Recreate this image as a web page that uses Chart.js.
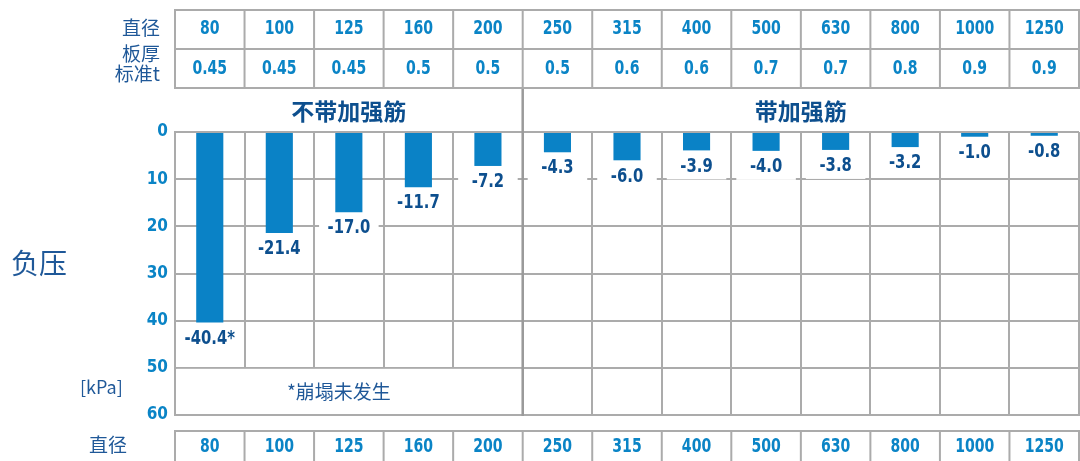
<!DOCTYPE html>
<html>
<head>
<meta charset="utf-8">
<script src="https://cdn.jsdelivr.net/npm/chart.js@4.4.1/dist/chart.umd.min.js"></script>
<style>
  html, body { margin: 0; padding: 0; background: #fff; }
  #wrap { width: 1080px; height: 461px; position: relative; }
</style>
</head>
<body>
<div id="wrap"><canvas id="chart"></canvas></div>
<script>
// data
var diameters = ['80', '100', '125', '160', '200', '250', '315', '400', '500', '630', '800', '1000', '1250'];
var thickness = ['0.45', '0.45', '0.45', '0.5', '0.5', '0.5', '0.6', '0.6', '0.7', '0.7', '0.8', '0.9', '0.9'];
var pressure = [-40.4, -21.4, -17.0, -11.7, -7.2, -4.3, -6.0, -3.9, -4.0, -3.8, -3.2, -1.0, -0.8];
var noCollapse = [true, false, false, false, false, false, false, false, false, false, false, false, false];
var yTicks = [0, 10, 20, 30, 40, 50, 60];
var sectionLabels = ['不带加强筋', '带加强筋'];
var sectionStart = [0, 5];

var NUMFONT = '"DejaVu Sans", sans-serif';
var TICKFONT = '"DejaVu Sans Condensed", "DejaVu Sans", sans-serif';
var CJK = '"Noto Sans CJK SC", "Noto Sans", sans-serif';
var blue = '#0a84c6';
var navy = '#0d4f8e';
var textBlue = '#1f5898';
var gridColor = '#ababab';

function colEdge(xs, i) {
    return xs.left + i * xs.width / diameters.length;
}

// condensed look: squeeze the text horizontally
function narrowText(ctx, text, x, y) {
    ctx.save();
    ctx.translate(x, y);
    ctx.scale(0.74, 1);
    ctx.fillText(text, 0, 0);
    ctx.restore();
}

var tablePlugin = {
    id: 'tables',
    beforeDatasetsDraw: function(chart) {
        var ctx = chart.ctx, xs = chart.scales.x, ys = chart.scales.y;
        // merged footnote cell in the 50-60 band of the left section
        var l = colEdge(xs, 0), r = colEdge(xs, sectionStart[1]);
        var t = ys.getPixelForValue(-50), b = ys.getPixelForValue(-60);
        ctx.save();
        ctx.fillStyle = '#fff';
        ctx.fillRect(l + 1.5, t + 1, r - l - 3, b - t - 2);
        ctx.fillStyle = textBlue;
        ctx.font = '19px ' + CJK;
        ctx.textAlign = 'center';
        ctx.textBaseline = 'middle';
        ctx.fillText('*崩塌未发生', (l + r) / 2 - 10, (t + b) / 2);
        ctx.restore();
    },
    afterDatasetsDraw: function(chart) {
        var ctx = chart.ctx, xs = chart.scales.x, ys = chart.scales.y;
        var n = diameters.length;
        var colW = xs.width / n;
        var meta = chart.getDatasetMeta(0);
        ctx.save();

        // value labels under the bars, on white boxes
        ctx.textAlign = 'center';
        ctx.textBaseline = 'middle';
        meta.data.forEach(function(bar, i) {
            ctx.fillStyle = '#fff';
            ctx.fillRect(bar.x - colW / 2 + 5, bar.y + 3, colW - 10, 26);
            ctx.fillStyle = navy;
            ctx.font = 'bold 20px ' + NUMFONT;
            narrowText(ctx, pressure[i].toFixed(1) + (noCollapse[i] ? '*' : ''), bar.x, bar.y + 16);
        });

        // separator between the two sections
        var sx = colEdge(xs, sectionStart[1]);
        ctx.strokeStyle = '#9a9a9a';
        ctx.lineWidth = 2.5;
        ctx.beginPath();
        ctx.moveTo(sx, 88);
        ctx.lineTo(sx, ys.bottom + 1);
        ctx.stroke();

        // section titles
        ctx.fillStyle = navy;
        ctx.font = 'bold 23px ' + CJK;
        sectionLabels.forEach(function(lab, k) {
            var a = colEdge(xs, sectionStart[k]);
            var b = k + 1 < sectionStart.length ? colEdge(xs, sectionStart[k + 1]) : colEdge(xs, n);
            ctx.fillText(lab, (a + b) / 2, 111);
        });

        // top table
        var x0 = colEdge(xs, 0), x1 = colEdge(xs, n);
        ctx.strokeStyle = gridColor;
        ctx.lineWidth = 2;
        ctx.beginPath();
        [10, 49, 88].forEach(function(y) { ctx.moveTo(x0 - 1, y); ctx.lineTo(x1 + 1, y); });
        for (var i = 0; i <= n; i++) {
            var ex = colEdge(xs, i);
            ctx.moveTo(ex, 10); ctx.lineTo(ex, 88);
        }
        // bottom table
        ctx.moveTo(x0 - 1, 431); ctx.lineTo(x1 + 1, 431);
        for (var j = 0; j <= n; j++) {
            var bx = colEdge(xs, j);
            ctx.moveTo(bx, 431); ctx.lineTo(bx, 461);
        }
        ctx.stroke();

        ctx.fillStyle = blue;
        ctx.font = 'bold 19px ' + NUMFONT;
        for (var c = 0; c < n; c++) {
            var cx = colEdge(xs, c) + colW / 2;
            narrowText(ctx, diameters[c], cx, 29);
            narrowText(ctx, thickness[c], cx, 69);
            narrowText(ctx, diameters[c], cx, 447);
        }

        // row headers and axis captions
        ctx.fillStyle = textBlue;
        ctx.font = '19px ' + CJK;
        ctx.textAlign = 'right';
        ctx.fillText('直径', 160, 28);
        ctx.fillText('板厚', 160, 54);
        ctx.fillText('标准t', 160, 74);
        ctx.fillText('直径', 127, 445);
        ctx.textAlign = 'left';
        ctx.font = '28px ' + CJK;
        ctx.fillText('负压', 11, 263);
        ctx.font = '18px ' + CJK;
        ctx.fillText('[kPa]', 80, 387);
        ctx.restore();
    }
};

var ctx1 = document.getElementById('chart').getContext('2d');
var barChart = new Chart(ctx1, {
    type: 'bar',
    data: {
        labels: diameters,
        datasets: [{
            data: pressure,
            backgroundColor: '#0a82c6',
            borderWidth: 0,
            barPercentage: 0.39,
            categoryPercentage: 1
        }]
    },
    options: {
        responsive: true,
        maintainAspectRatio: false,
        animation: false,
        layout: { padding: { top: 132, bottom: 46, left: 0, right: 1 } },
        plugins: {
            legend: { display: false },
            tooltip: { enabled: false }
        },
        scales: {
            x: {
                type: 'category',
                offset: true,
                afterFit: function(s) { s.height = 0; },
                ticks: { display: false },
                grid: { offset: true, color: gridColor, lineWidth: 2, drawTicks: false },
                border: { color: gridColor, width: 2 }
            },
            y: {
                min: -60,
                max: 0,
                afterFit: function(s) { s.width = 175; },
                afterBuildTicks: function(s) {
                    s.ticks = yTicks.map(function(v) { return { value: -v }; });
                },
                ticks: {
                    color: blue,
                    padding: 7,
                    font: { family: TICKFONT, size: 17, weight: 'bold' },
                    callback: function(v) { return Math.abs(v); }
                },
                grid: { color: gridColor, lineWidth: 2, drawTicks: false },
                border: { color: gridColor, width: 2 }
            }
        }
    },
    plugins: [tablePlugin]
});
</script>
</body>
</html>
